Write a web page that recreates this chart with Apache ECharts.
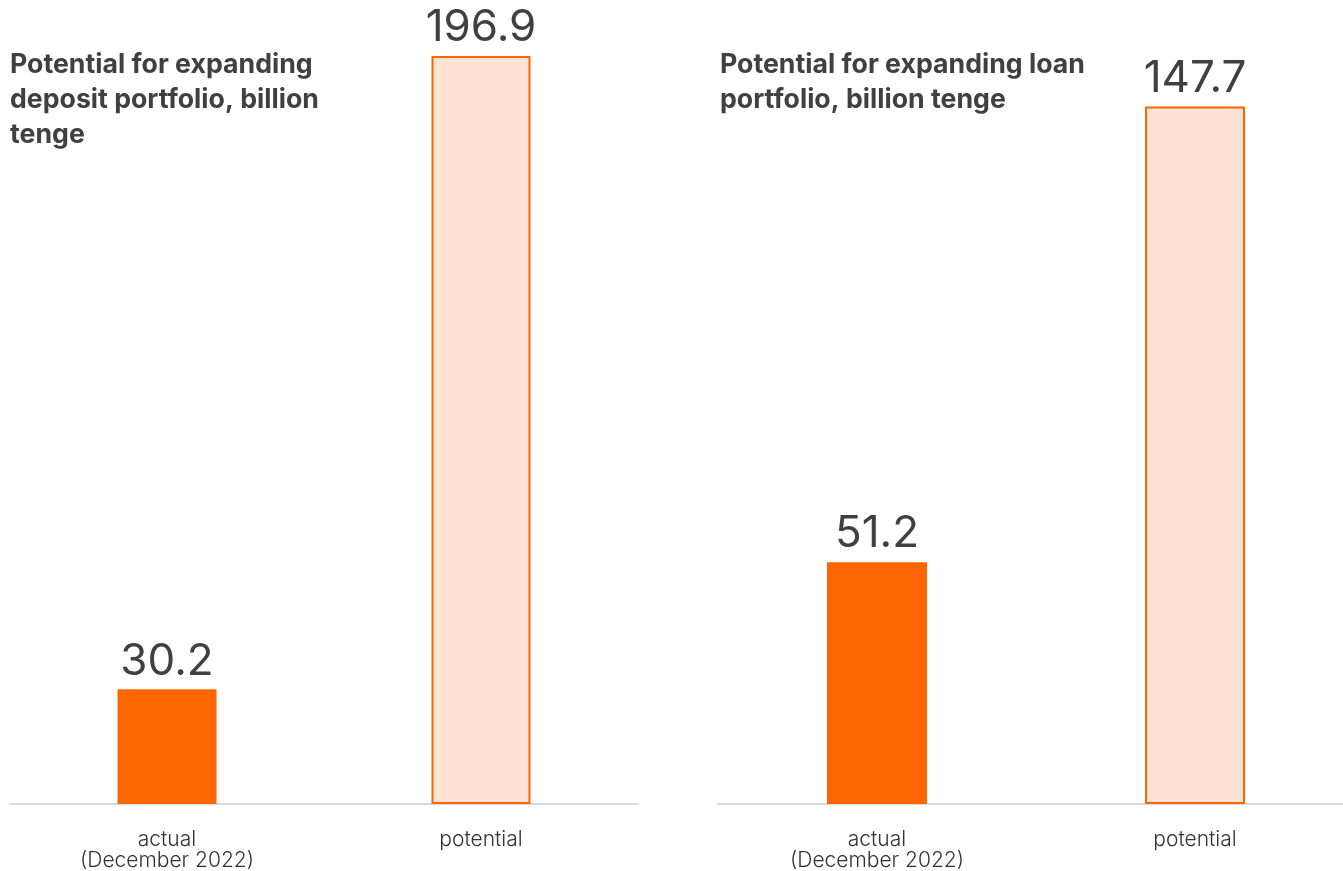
<!DOCTYPE html>
<html>
<head>
<meta charset="utf-8">
<script src="https://cdn.jsdelivr.net/npm/echarts@6/dist/echarts.min.js"></script>
<style>
html,body{margin:0;padding:0;background:#fff;overflow:hidden;width:1343px;height:871px;}
#chart{width:1360px;height:871px;}
</style>
</head>
<body>
<div id="chart"></div>
<script>
const categories = ['actual\n(December 2022)', 'potential'];
const depositValues = [30.2, 196.9];
const loanValues = [51.2, 147.7];
const titles = ['Potential for expanding\ndeposit portfolio, billion\ntenge', 'Potential for expanding loan\nportfolio, billion tenge'];

const ORANGE = '#FF6600';
const LIGHT = '#FFE2D3';
const TXT = '#404040';
const FONT = 'Inter, "Noto Sans", sans-serif';

function barData(vals) {
  return vals.map((v, i) => i === 0
    ? { value: v, itemStyle: { color: ORANGE, borderWidth: 0 } }
    : { value: v, itemStyle: { color: LIGHT, borderColor: ORANGE, borderWidth: 2 } });
}

const titleStyle = { fontFamily: FONT, fontSize: 26.7, fontWeight: 700, color: TXT, lineHeight: 35 };
const labelStyle = { show: true, position: 'top', distance: 6, fontFamily: FONT, fontSize: 44, color: TXT };

const chart = echarts.init(document.getElementById('chart'));
chart.setOption({
  animation: false,
  backgroundColor: '#fff',
  title: [
    { text: titles[0], left: 10, top: 47, padding: 0, textStyle: titleStyle },
    { text: titles[1], left: 720, top: 47, padding: 0, textStyle: titleStyle }
  ],
  grid: [
    { left: 10, width: 628, top: 56, bottom: 64, containLabel: false },
    { left: 718, width: 636, top: 56, bottom: 64, containLabel: false }
  ],
  xAxis: [0, 1].map(i => ({
    type: 'category', gridIndex: i, data: categories,
    axisLine: { lineStyle: { color: '#D9D9D9', width: 2 } },
    axisTick: { show: false },
    axisLabel: { fontFamily: FONT, fontSize: 21, fontWeight: 300, color: '#333', lineHeight: 21, margin: 25 }
  })),
  yAxis: [
    { type: 'value', gridIndex: 0, min: 0, max: 196.9, show: false, splitLine: { show: false } },
    { type: 'value', gridIndex: 1, min: 0, max: 158.4, show: false, splitLine: { show: false } }
  ],
  series: [
    { type: 'bar', xAxisIndex: 0, yAxisIndex: 0, data: barData(depositValues), barWidth: 99, label: labelStyle },
    { type: 'bar', xAxisIndex: 1, yAxisIndex: 1, data: barData(loanValues), barWidth: 100, label: labelStyle }
  ]
});
</script>
</body>
</html>
